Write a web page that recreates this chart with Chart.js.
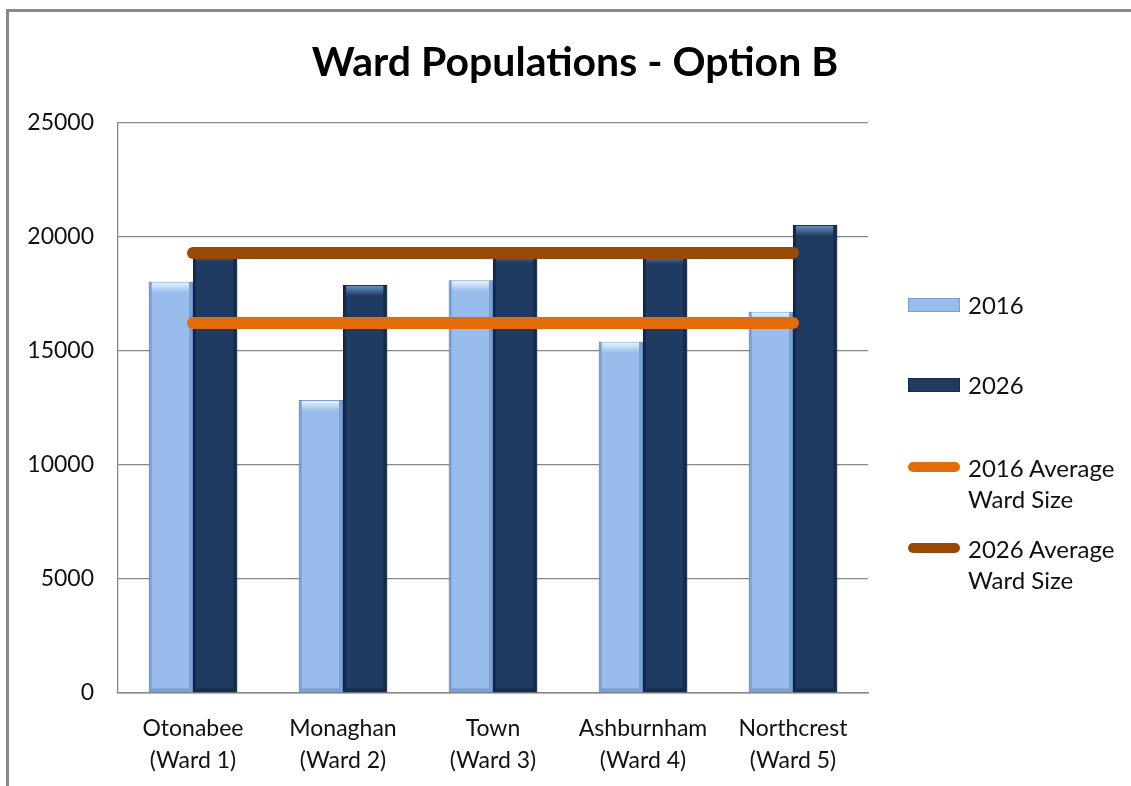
<!DOCTYPE html>
<html>
<head>
<meta charset="utf-8">
<script src="https://cdn.jsdelivr.net/npm/chart.js@4"></script>
<style>
  body { margin: 0; background: #fff; }
  #wrap { position: relative; width: 1131px; height: 786px; overflow: hidden; font-family: Lato, "Open Sans", sans-serif; }
  #frame { position: absolute; left: 6px; top: 9px; width: 1200px; height: 900px; border-left: 3px solid #888; border-top: 3px solid #888; }
  #c { position: absolute; left: 0; top: 0; }
  #title { position: absolute; left: 0; width: 1150px; top: 36px; text-align: center; font-weight: bold; font-size: 41px; color: #000; }
  #legend { position: absolute; left: 908px; top: 0; font-size: 24px; color: #111; }
  .item { position: absolute; left: 0; display: flex; white-space: nowrap; }
  .sw { position: absolute; left: 0; width: 52px; }
  .txt { position: absolute; left: 60px; line-height: 31px; }
</style>
</head>
<body>
<div id="wrap">
  <div id="frame"></div>
  <canvas id="c" width="1131" height="786"></canvas>
  <div id="title">Ward Populations - Option B</div>
  <div id="legend"></div>
</div>
<script>
// ward names, two lines each
const wards = [
  ['Otonabee', '(Ward 1)'],
  ['Monaghan', '(Ward 2)'],
  ['Town', '(Ward 3)'],
  ['Ashburnham', '(Ward 4)'],
  ['Northcrest', '(Ward 5)']
];
const pop2016 = [18040, 12850, 18100, 15410, 16720];
const pop2026 = [19400, 17900, 19350, 19300, 20530];
const avg2016 = [16225, 16225, 16225, 16225, 16225];
const avg2026 = [19300, 19300, 19300, 19300, 19300];
const yMax = 25000, yStep = 5000;

const FONT = 'Lato, "Open Sans", sans-serif';

// little Excel-ish bevel on the bars
const bevel = {
  id: 'bevel',
  afterDatasetDraw(chart, args) {
    const meta = args.meta;
    if (meta.type !== 'bar') return;
    const ctx = chart.ctx;
    const dark = meta.index === 1;
    meta.data.forEach(el => {
      const p = el.getProps(['x', 'y', 'base', 'width'], true);
      const l = p.x - p.width / 2, w = p.width, t = p.y, h = p.base - p.y;
      ctx.save();
      // side shading
      ctx.fillStyle = dark ? 'rgba(10,25,50,0.45)' : 'rgba(70,110,170,0.35)';
      ctx.fillRect(l, t, 3, h);
      ctx.fillRect(l + w - 4, t, 4, h);
      // top highlight
      const g = ctx.createLinearGradient(0, t, 0, t + 11);
      g.addColorStop(0, dark ? 'rgba(120,160,210,0.9)' : 'rgba(235,250,255,1)');
      g.addColorStop(1, dark ? 'rgba(120,160,210,0)' : 'rgba(235,250,255,0)');
      ctx.fillStyle = g;
      ctx.fillRect(l + 3, t + 1, w - 7, 10);
      // bottom edge
      ctx.fillStyle = dark ? 'rgba(10,25,50,0.4)' : 'rgba(70,110,170,0.35)';
      ctx.fillRect(l + 3, p.base - 4, w - 7, 4);
      ctx.restore();
    });
  }
};

const series = [
  { label: '2016', type: 'bar', data: pop2016, backgroundColor: '#98BCEC', borderColor: '#7C9ECF', borderWidth: 1, order: 2 },
  { label: '2026', type: 'bar', data: pop2026, backgroundColor: '#1F3B62', borderColor: '#162B48', borderWidth: 1, order: 2 },
  { label: '2016 Average\nWard Size', type: 'line', data: avg2016, borderColor: '#E36C0A', backgroundColor: '#E36C0A', borderWidth: 12, borderCapStyle: 'round', pointRadius: 0, order: 0 },
  { label: '2026 Average\nWard Size', type: 'line', data: avg2026, borderColor: '#984807', backgroundColor: '#984807', borderWidth: 12, borderCapStyle: 'round', pointRadius: 0, order: 0 }
];

new Chart(document.getElementById('c'), {
  data: {
    labels: wards,
    datasets: series.map(s => Object.assign({}, s, { label: s.label.replace('\n', ' ') }))
  },
  options: {
    responsive: false,
    animation: false,
    layout: { padding: { top: 123, right: 263, left: 0, bottom: 0 } },
    datasets: { bar: { categoryPercentage: 0.59, barPercentage: 1.0 } },
    plugins: { legend: { display: false }, title: { display: false }, tooltip: { enabled: false } },
    scales: {
      x: {
        grid: { display: false },
        border: { color: '#888', width: 1.5 },
        ticks: { color: '#111', font: { family: FONT, size: 23, lineHeight: 1.38 }, padding: 12, maxRotation: 0 },
        afterFit(scale) { scale.height = 93; }
      },
      y: {
        min: 0, max: yMax,
        ticks: { stepSize: yStep, color: '#111', font: { family: FONT, size: 23 }, padding: 24, callback: v => String(v) },
        grid: { color: '#888', lineWidth: 1.3, drawTicks: false },
        border: { color: '#888', width: 1.3 },
        afterFit(scale) { scale.width = 118; }
      }
    }
  },
  plugins: [bevel]
});

// legend on the right, built from the series
const legendTops = [298, 378, 452, 533];
const lg = document.getElementById('legend');
series.forEach((s, i) => {
  const item = document.createElement('div');
  item.className = 'item';
  item.style.top = legendTops[i] + 'px';
  const sw = document.createElement('div');
  sw.className = 'sw';
  if (s.type === 'bar') {
    sw.style.top = '0px';
    sw.style.height = '14px';
    sw.style.background = s.backgroundColor;
    sw.style.border = '1px solid ' + s.borderColor;
    sw.style.boxSizing = 'border-box';
  } else {
    sw.style.top = '10px';
    sw.style.height = '10px';
    sw.style.borderRadius = '5px';
    sw.style.background = s.borderColor;
  }
  const txt = document.createElement('div');
  txt.className = 'txt';
  txt.style.top = s.type === 'bar' ? '-9px' : '0px';
  txt.innerHTML = s.label.split('\n').join('<br>');
  item.appendChild(sw);
  item.appendChild(txt);
  lg.appendChild(item);
});
</script>
</body>
</html>
